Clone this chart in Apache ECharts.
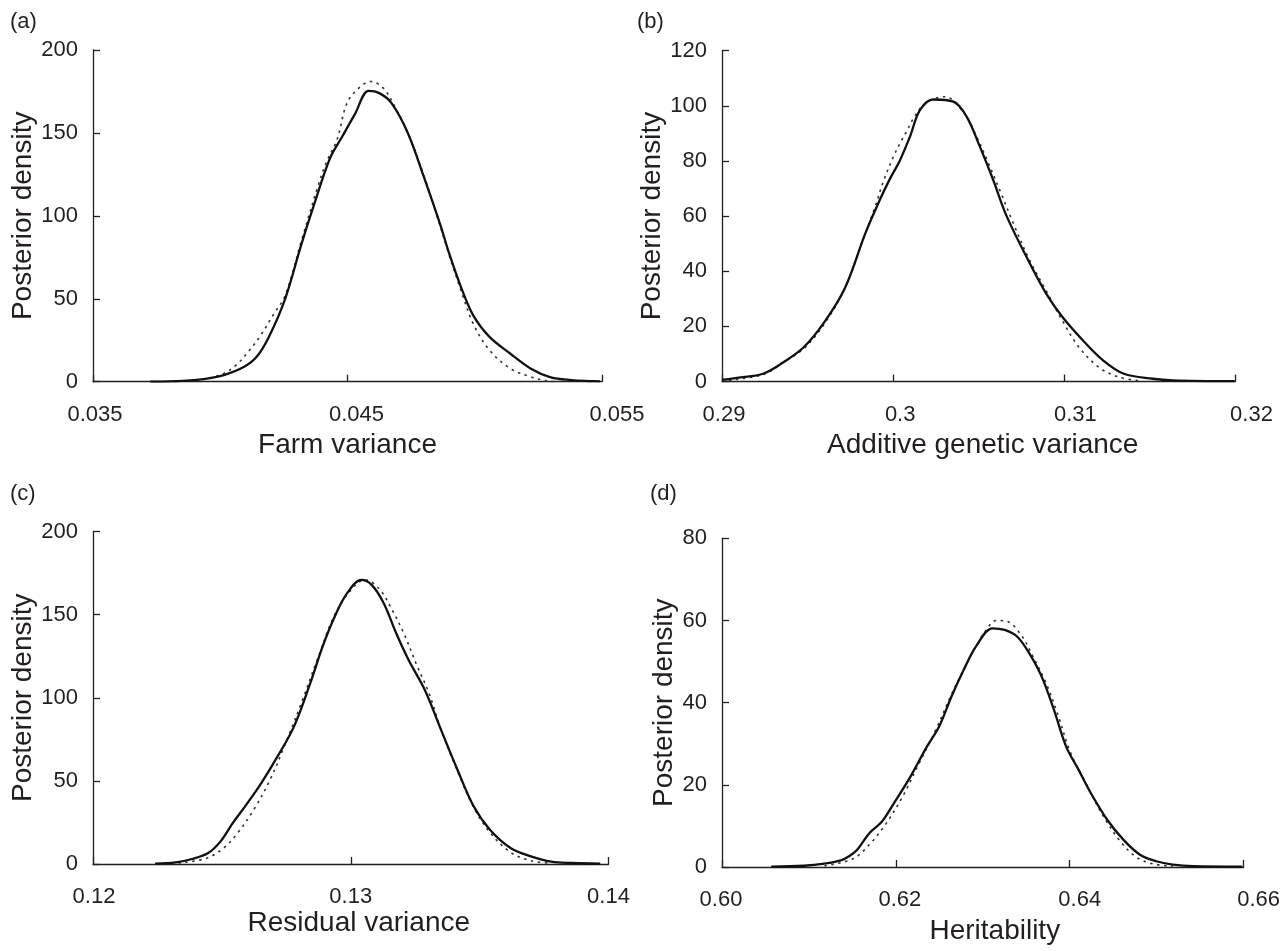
<!DOCTYPE html>
<html>
<head>
<meta charset="utf-8">
<title>Posterior densities</title>
<script src="https://cdn.jsdelivr.net/npm/echarts@6/dist/echarts.min.js"></script>
<style>
  html, body { margin: 0; padding: 0; background: #fff; }
  #chart { width: 1283px; height: 951px; }
</style>
</head>
<body>
<div id="chart"></div>
<script>
// tick values of each panel
const farmXTicks = [0.035, 0.045, 0.055];
const farmYTicks = [0, 50, 100, 150, 200];
const addXTicks = [0.29, 0.30, 0.31, 0.32];
const addYTicks = [0, 20, 40, 60, 80, 100, 120];
const resXTicks = [0.12, 0.13, 0.14];
const resYTicks = [0, 50, 100, 150, 200];
const herXTicks = [0.60, 0.62, 0.64, 0.66];
const herYTicks = [0, 20, 40, 60, 80];

// (a) farm variance
const farmSolidX = [0.03725, 0.03853, 0.03934, 0.04014, 0.04094, 0.04143, 0.04191, 0.04255, 0.04319, 0.04367, 0.04432, 0.04480, 0.04528, 0.04583, 0.04625, 0.04673, 0.04737, 0.04801, 0.04866, 0.04898, 0.04946, 0.04994, 0.05058, 0.05139, 0.05219, 0.05299, 0.05380, 0.05460, 0.05492];
const farmSolidY = [0, 0.5, 1.6, 4, 9, 15, 27, 50, 83, 106, 135, 148, 161, 175.3, 174, 168, 150, 123, 94, 78, 57, 40, 27, 17, 8, 2.6, 1, 0.4, 0.2];
const farmDottedX = [0.03821, 0.03934, 0.04014, 0.04062, 0.04110, 0.04159, 0.04207, 0.04255, 0.04319, 0.04384, 0.04416, 0.04459, 0.04498, 0.04544, 0.04590, 0.04641, 0.04689, 0.04737, 0.04801, 0.04866, 0.04898, 0.04946, 0.04994, 0.05058, 0.05139, 0.05219, 0.05283, 0.05315];
const farmDottedY = [0, 1.5, 5, 10, 18, 28, 40, 52, 85, 118, 132, 146, 168, 177, 181, 177, 165, 150, 124, 93, 77, 55, 35, 19, 8, 3, 0.5, 0];

// (b) additive genetic variance
const addSolidX = [0.29, 0.2912, 0.2924, 0.29359, 0.29479, 0.29599, 0.29719, 0.29839, 0.29923, 0.29981, 0.3004, 0.30098, 0.30157, 0.30235, 0.30352, 0.3043, 0.30507, 0.30585, 0.30663, 0.30797, 0.30893, 0.30989, 0.31109, 0.31228, 0.31348, 0.31516, 0.31636, 0.31995];
const addSolidY = [0.6, 1.6, 2.8, 7, 12.5, 21.6, 34, 54, 66, 73.5, 80.3, 88.8, 98.5, 102.3, 101.5, 96, 85.1, 73, 60, 43, 32, 23.4, 14.9, 7.6, 2.8, 1, 0.4, 0.1];
const addDottedX = [0.29, 0.2924, 0.29359, 0.29479, 0.29599, 0.29719, 0.29839, 0.29894, 0.29942, 0.30001, 0.3004, 0.30079, 0.30118, 0.30167, 0.30227, 0.30303, 0.30414, 0.30486, 0.30558, 0.30629, 0.30701, 0.30797, 0.30893, 0.30989, 0.31085, 0.31205, 0.31324, 0.31444];
const addDottedY = [0.3, 2.5, 7, 12, 21, 34, 54, 63.3, 72.4, 81.5, 86.4, 90.8, 95.4, 99.7, 102.3, 103.3, 97.5, 89, 79, 68.5, 57.5, 44, 33, 22, 12.5, 5, 1.5, 0.3];

// (c) residual variance
const resSolidX = [0.12241, 0.1232, 0.12384, 0.12447, 0.12495, 0.12542, 0.1259, 0.12653, 0.12716, 0.1278, 0.12843, 0.12891, 0.12938, 0.12986, 0.13041, 0.13081, 0.13128, 0.13176, 0.13224, 0.13287, 0.1335, 0.13414, 0.13477, 0.1354, 0.1362, 0.13699, 0.13778, 0.13857, 0.13968];
const resSolidY = [0.2, 1, 3, 6.6, 13.6, 24.6, 34.7, 48.7, 64.7, 82.8, 108.8, 130.9, 148.9, 162.9, 170.9, 167.9, 156.9, 138.9, 122.8, 104.8, 80.8, 56.7, 34.7, 20.6, 9.6, 4.6, 1.4, 0.6, 0.2];
const resDottedX = [0.12304, 0.12431, 0.12502, 0.12558, 0.12621, 0.12685, 0.12748, 0.12811, 0.12875, 0.12938, 0.13002, 0.13057, 0.13113, 0.1316, 0.13208, 0.13255, 0.13303, 0.1335, 0.13414, 0.13477, 0.1354, 0.1362, 0.13699, 0.13778];
const resDottedY = [0.2, 3, 9, 18, 32, 50, 73, 98, 125, 150, 165, 171, 165, 153, 138, 120, 103, 81, 56, 34, 19, 7, 2, 0.4];

// (d) heritability
const herSolidX = [0.60566, 0.60943, 0.61178, 0.61367, 0.61461, 0.61555, 0.61697, 0.61838, 0.6198, 0.62168, 0.62357, 0.62498, 0.6264, 0.62781, 0.62922, 0.63111, 0.63252, 0.63394, 0.63535, 0.63676, 0.63818, 0.63959, 0.64101, 0.64242, 0.64431, 0.64619, 0.64808, 0.64996, 0.65185, 0.6542, 0.65986];
const herSolidY = [0.1, 0.3, 0.8, 1.6, 2.6, 4.2, 8.3, 11, 15.6, 22, 29.3, 34.2, 41.5, 48, 53.7, 58.1, 57.7, 56.1, 52, 46.4, 38.3, 29.3, 23.7, 18, 11.5, 6.6, 3, 1.4, 0.6, 0.2, 0.1];
const herDottedX = [0.61178, 0.61508, 0.61697, 0.61885, 0.62074, 0.62262, 0.62451, 0.6264, 0.62828, 0.63017, 0.63158, 0.63276, 0.63441, 0.63582, 0.63723, 0.63865, 0.64006, 0.64195, 0.64383, 0.64572, 0.6476, 0.64949, 0.65185];
const herDottedY = [0.3, 2, 5.5, 10.5, 17, 25, 33, 42, 50, 57, 60, 59.8, 56.5, 51, 45, 37, 28, 20, 12.5, 6.5, 2.5, 0.8, 0.2];

const FONT = '"Liberation Sans", Arial, Helvetica, sans-serif';
const INK = '#231f20';

const pair = (xs, ys) => xs.map((x, i) => [x, ys[i]]);
const step = (t) => +(t[1] - t[0]).toFixed(6);

const panels = [
  {
    tag: "(a)", tagPos: [10, 23],
    grid: { left: 93, top: 50, width: 509, height: 331.7 },
    xTicks: farmXTicks, yTicks: farmYTicks,
    labelShift: [2, 9, 15],
    xName: "Farm variance", xGap: 50, xShift: 0, yGap: 52,
    xFmt: (v) => v.toFixed(3),
    solid: pair(farmSolidX, farmSolidY), dotted: pair(farmDottedX, farmDottedY),
  },
  {
    tag: "(b)", tagPos: [637, 23],
    grid: { left: 722, top: 50.7, width: 513.5, height: 330.8 },
    xTicks: addXTicks, yTicks: addYTicks,
    labelShift: [2, 7, 11, 16],
    xName: "Additive genetic variance", xGap: 50, xShift: 4, yGap: 56,
    xFmt: (v) => String(+v.toFixed(2)),
    solid: pair(addSolidX, addSolidY), dotted: pair(addDottedX, addDottedY),
  },
  {
    tag: "(c)", tagPos: [10, 495],
    grid: { left: 93, top: 531.5, width: 515.5, height: 332.5 },
    xTicks: resXTicks, yTicks: resYTicks,
    labelShift: [1, 0, 0],
    xName: "Residual variance", xGap: 41, xShift: 8, yGap: 52,
    xFmt: (v) => v.toFixed(2),
    solid: pair(resSolidX, resSolidY), dotted: pair(resDottedX, resDottedY),
  },
  {
    tag: "(d)", tagPos: [650, 495],
    grid: { left: 722, top: 538.3, width: 522, height: 328.7 },
    xTicks: herXTicks, yTicks: herYTicks,
    labelShift: [-1, 4, 10, 15],
    xName: "Heritability", xGap: 50, xShift: 12, yGap: 43,
    xFmt: (v) => v.toFixed(2),
    solid: pair(herSolidX, herSolidY), dotted: pair(herDottedX, herDottedY),
  },
];

const labelFont = { fontSize: 22, fontFamily: FONT, color: INK };

// rich styles that nudge each x tick label sideways, as in the printed figure
const shiftRich = (shifts) => {
  const rich = {};
  shifts.forEach((s, k) => {
    rich["s" + k] = Object.assign({}, labelFont, {
      padding: s >= 0 ? [0, 0, 0, 2 * s] : [0, -2 * s, 0, 0],
    });
  });
  return rich;
};

const axisLine = { show: true, lineStyle: { color: INK, width: 1.3 } };
const axisTick = { show: true, inside: true, length: 7, lineStyle: { color: INK, width: 1.3 } };

const option = {
  animation: false,
  backgroundColor: "#fff",
  grid: panels.map((p) => p.grid),
  xAxis: panels.map((p, i) => ({
    gridIndex: i,
    type: "value",
    min: p.xTicks[0],
    max: p.xTicks[p.xTicks.length - 1],
    interval: step(p.xTicks),
    axisLine: axisLine,
    axisTick: axisTick,
    splitLine: { show: false },
    axisLabel: Object.assign({}, labelFont, {
      margin: 22,
      formatter: (v, idx) => "{s" + idx + "|" + p.xFmt(v) + "}",
      rich: shiftRich(p.labelShift),
    }),
    name: p.xName,
    nameLocation: "middle",
    nameGap: p.xGap,
    nameTextStyle: {
      fontSize: 28, color: INK, fontFamily: FONT,
      padding: [0, 0, 0, p.xShift * 2],
    },
  })),
  yAxis: panels.map((p, i) => ({
    gridIndex: i,
    type: "value",
    min: p.yTicks[0],
    max: p.yTicks[p.yTicks.length - 1],
    interval: step(p.yTicks),
    axisLine: axisLine,
    axisTick: axisTick,
    splitLine: { show: false },
    axisLabel: Object.assign({}, labelFont, { margin: 15 }),
    name: "Posterior density",
    nameLocation: "middle",
    nameGap: p.yGap,
    nameTextStyle: { fontSize: 28, color: INK, fontFamily: FONT },
  })),
  series: panels.flatMap((p, i) => [
    {
      type: "line",
      xAxisIndex: i,
      yAxisIndex: i,
      data: p.dotted,
      showSymbol: false,
      smooth: 0.35,
      lineStyle: { color: "#333", width: 1.6, type: [2.5, 4.5] },
    },
    {
      type: "line",
      xAxisIndex: i,
      yAxisIndex: i,
      data: p.solid,
      showSymbol: false,
      smooth: 0.35,
      lineStyle: { color: "#111", width: 2.3 },
    },
  ]),
  graphic: panels.map((p) => ({
    type: "text",
    left: p.tagPos[0],
    top: p.tagPos[1] - 12,
    style: { text: p.tag, fill: INK, fontSize: 22, fontFamily: FONT },
  })),
};

const chart = echarts.init(document.getElementById("chart"), null, { renderer: "canvas" });
chart.setOption(option);
</script>
</body>
</html>
